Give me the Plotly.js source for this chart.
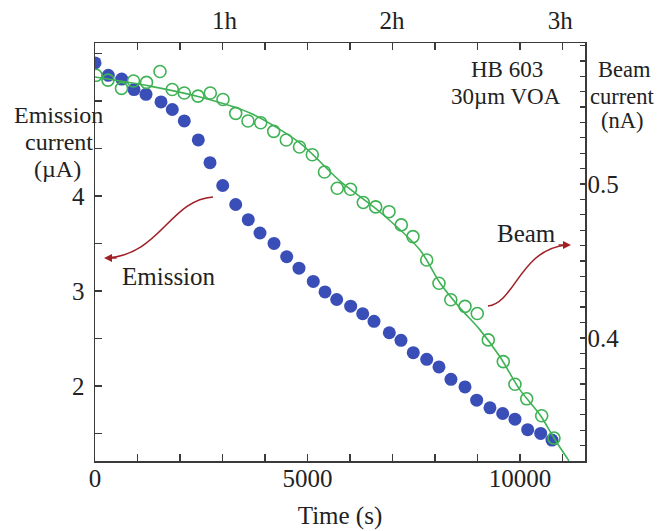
<!DOCTYPE html>
<html><head><meta charset="utf-8">
<script src="https://cdn.plot.ly/plotly-3.0.1.min.js"></script>
<style>body{margin:0;background:#fff}#chart{width:663px;height:531px}</style>
</head><body><div id="chart"></div>
<script>
// Emission current (µA), filled blue circles, left axis
const emissionTime = [0,313,628,918,1200,1553,1819,2101,2431,2706,3005,3311,3607,3882,4212,4511,4800,5136,5412,5687,6016,6299,6565,6925,7200,7489,7805,8094,8376,8706,8981,9294,9593,9882,10181,10487,10753];
const emissionCurrent = [5.40,5.27,5.23,5.12,5.07,4.99,4.91,4.79,4.59,4.35,4.11,3.91,3.75,3.61,3.50,3.36,3.24,3.10,2.99,2.91,2.84,2.76,2.68,2.56,2.48,2.35,2.28,2.20,2.07,1.99,1.85,1.77,1.71,1.65,1.54,1.50,1.43];

// Beam current (nA), open green circles, right axis
const beamTime = [24,306,624,906,1212,1529,1818,2101,2424,2713,3012,3311,3600,3899,4205,4501,4812,5113,5400,5701,6012,6313,6605,6918,7207,7482,7805,8094,8372,8706,8995,9254,9607,9882,10158,10511,10800];
const beamCurrent = [0.5706,0.5675,0.5621,0.5669,0.5660,0.5731,0.5614,0.5591,0.5571,0.5591,0.5549,0.5459,0.5409,0.5398,0.5342,0.5286,0.5240,0.5190,0.5078,0.4972,0.4966,0.4880,0.4851,0.4820,0.4734,0.4658,0.4506,0.4355,0.4248,0.4205,0.4158,0.3987,0.3846,0.3699,0.3604,0.3494,0.3349];

// Fitted beam curve
const fitTime = [0,1294,2471,3647,4824,5765,6706,7647,8118,8588,9059,9529,10000,10471,10824,11153];
const fitCurrent = [0.5695,0.5636,0.5565,0.5461,0.5266,0.5019,0.4818,0.4571,0.4357,0.4195,0.4052,0.3877,0.3662,0.3500,0.3338,0.3201];

// Axis ticks
const xTickVals = [0,1000,2000,3000,4000,5000,6000,7000,8000,9000,10000,11000];
const xTickText = ['0','','','','','5000','','','','','10000',''];
const hourTickVals = [3050,6990,10950];
const hourTickText = ['1h','2h','3h'];
const emTickVals = [1.5,2,2.5,3,3.5,4,4.5,5,5.5];
const emTickText = ['','2','','3','','4','','',''];
const beamTickVals = [0.33,0.34,0.35,0.36,0.37,0.38,0.39,0.40,0.41,0.42,0.43,0.44,0.45,0.46,0.47,0.48,0.49,0.50,0.51,0.52,0.53,0.54,0.55,0.56,0.57,0.58,0.59];
const beamTickText = beamTickVals.map(v => Math.abs(v-0.4)<1e-9 ? '0.4' : (Math.abs(v-0.5)<1e-9 ? '0.5' : ''));

const BLUE = 'rgb(58,78,184)';
const GREEN = 'rgb(62,178,84)';
const RED = 'rgb(160,32,40)';
const INK = '#222';
const AX = '#3a3a3a';
const FONT = 'Liberation Serif, Times New Roman, serif';

const traces = [
  {x: emissionTime, y: emissionCurrent, type: 'scatter', mode: 'markers', xaxis: 'x', yaxis: 'y',
   marker: {symbol: 'circle', size: 13, color: BLUE, line: {width: 0}}, hoverinfo: 'skip'},
  {x: fitTime, y: fitCurrent, type: 'scatter', mode: 'lines', xaxis: 'x', yaxis: 'y2',
   line: {color: GREEN, width: 1.6, shape: 'spline', smoothing: 0.8}, hoverinfo: 'skip'},
  {x: beamTime, y: beamCurrent, type: 'scatter', mode: 'markers', xaxis: 'x', yaxis: 'y2',
   marker: {symbol: 'circle', size: 12, color: 'rgba(255,255,255,0)', line: {color: GREEN, width: 1.6}}, hoverinfo: 'skip'},
  {x: [null], y: [null], type: 'scatter', mode: 'markers', xaxis: 'x2', yaxis: 'y', hoverinfo: 'skip'}
];

const font = {family: FONT, size: 25, color: INK};
function ann(text, px, py, size) {
  return {text: text, xref: 'paper', yref: 'paper', x: (px - 95) / 490, y: (461 - py) / 418,
          xanchor: 'center', yanchor: 'middle', showarrow: false,
          font: {family: FONT, size: size || 25, color: INK}};
}

const layout = {
  width: 663, height: 531,
  margin: {l: 95, r: 78, t: 43, b: 70},
  paper_bgcolor: '#fff', plot_bgcolor: '#fff',
  showlegend: false,
  font: font,
  xaxis: {range: [0, 11530], tickvals: xTickVals, ticktext: xTickText, ticks: 'inside', ticklen: 7,
          tickwidth: 1.5, tickcolor: AX, showline: true, linecolor: AX, linewidth: 1.5, mirror: 'ticks',
          showgrid: false, zeroline: false, tickfont: font, ticklabelstandoff: -6,
          title: {text: 'Time (s)', font: font, standoff: 16}},
  xaxis2: {range: [0, 11530], overlaying: 'x', side: 'top', anchor: 'y', tickvals: hourTickVals, ticktext: hourTickText,
           ticks: '', showline: false, showgrid: false, zeroline: false, tickfont: font, ticklabelstandoff: 8},
  yaxis: {range: [1.21, 5.61], tickvals: emTickVals, ticktext: emTickText, ticks: 'inside', ticklen: 7,
          tickwidth: 1.5, tickcolor: AX, showline: true, linecolor: AX, linewidth: 1.5,
          showgrid: false, zeroline: false, tickfont: font, ticklabelstandoff: 4},
  yaxis2: {range: [0.320, 0.5916], overlaying: 'y', side: 'right', anchor: 'x', tickvals: beamTickVals, ticktext: beamTickText,
           ticks: 'inside', ticklen: 5, tickwidth: 1.3, tickcolor: AX, showline: true, linecolor: AX, linewidth: 1.5,
           showgrid: false, zeroline: false, tickfont: font, ticklabelstandoff: -4},
  shapes: [
    {type: 'path', xref: 'x', yref: 'y', path: 'M 2776 3.989 C 1765 3.958, 1529 3.379, 282 3.347',
     line: {color: RED, width: 1.6}},
    {type: 'path', xref: 'x', yref: 'y', path: 'M 9247 2.842 C 9882 2.874, 10000 3.432, 11082 3.484',
     line: {color: RED, width: 1.6}}
  ],
  annotations: [
    ann('Emission', 58, 115, 24), ann('current', 59, 142, 24), ann('(µA)', 57, 169, 24),
    ann('Beam', 624, 70, 22.5), ann('current', 622, 96, 22.5), ann('(nA)', 622, 121, 22.5),
    ann('HB 603', 507, 70, 23), ann('30µm VOA', 506, 96, 23),
    ann('Emission', 169, 276), ann('Beam', 526, 233),
    {xref: 'x', yref: 'y', x: 212, y: 3.347, ax: 14, ay: 0, text: '', showarrow: true,
     arrowhead: 2, arrowsize: 1, arrowwidth: 1.6, arrowcolor: RED, standoff: 0},
    {xref: 'x', yref: 'y', x: 11200, y: 3.484, ax: -14, ay: 0, text: '', showarrow: true,
     arrowhead: 2, arrowsize: 1, arrowwidth: 1.6, arrowcolor: RED, standoff: 0}
  ]
};

Plotly.newPlot('chart', traces, layout, {displayModeBar: false, staticPlot: true});
</script></body></html>
